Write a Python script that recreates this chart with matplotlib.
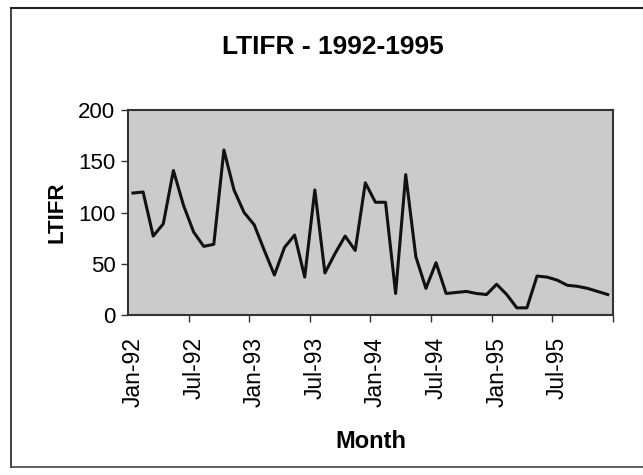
import matplotlib
matplotlib.use('Agg')

import matplotlib.pyplot as plt
from matplotlib.lines import Line2D
import numpy as np

plt.rcParams['font.family'] = ['Liberation Sans', 'DejaVu Sans']

# monthly LTIFR, Jan-92 .. Dec-95
months = [f"{m}-{y}" for y in ["92", "93", "94", "95"]
          for m in ["Jan", "Feb", "Mar", "Apr", "May", "Jun",
                    "Jul", "Aug", "Sep", "Oct", "Nov", "Dec"]]
ltifr = [119, 120, 77, 89, 141, 107, 81, 67, 69, 161, 122, 100,
         88, 63, 39, 66, 78, 37, 122, 41, 60, 77, 63, 129,
         110, 110, 21, 137, 57, 26, 51, 21, 22, 23, 21, 20,
         30, 20, 7, 7, 38, 37, 34, 29, 28, 26, 23, 20]
label_every = 6
y_ticks = [0, 50, 100, 150, 200]

fig = plt.figure(figsize=(6.43, 4.75), dpi=100)
ax = fig.add_axes([0.199, 0.3368, 0.754, 0.4316])
ax.set_facecolor('#cbcbcb')

x = np.arange(len(months))
ax.plot(x, ltifr, color='#111111', linewidth=2.2)

ax.set_xlim(-0.5, len(months) - 0.5)
ax.set_ylim(0, 200)
ax.set_yticks(y_ticks)
ax.set_xticks(x[::label_every])
ax.set_xticklabels(months[::label_every], rotation=90)
ax.set_xticks(x[label_every - 1::label_every] + 0.5, minor=True)
ax.tick_params(axis='x', which='major', length=0, pad=16, labelsize=16.5)
ax.tick_params(axis='x', which='minor', length=5, width=1, color='#333333')
ax.tick_params(axis='y', length=5, width=1, color='#333333', labelsize=16, pad=4)
for s in ax.spines.values():
    s.set_color('#333333')
    s.set_linewidth(1.5)

ax.set_ylabel('LTIFR', fontsize=16, fontweight='bold', labelpad=8)
fig.text(0.577, 0.071, 'Month', fontsize=17, fontweight='bold', ha='center', va='center')
fig.text(0.518, 0.9, 'LTIFR - 1992-1995', fontsize=19, fontweight='bold', ha='center', va='center')

# page frame from the scanned document
fig.add_artist(Line2D([0.017, 1.0], [0.983, 0.983], color='#222222', linewidth=1.5))
fig.add_artist(Line2D([0.017, 0.017], [0.017, 0.983], color='#222222', linewidth=1.2))
fig.add_artist(Line2D([0.017, 1.0], [0.017, 0.017], color='#444444', linewidth=1.2))

plt.savefig('out.png', dpi=100)
